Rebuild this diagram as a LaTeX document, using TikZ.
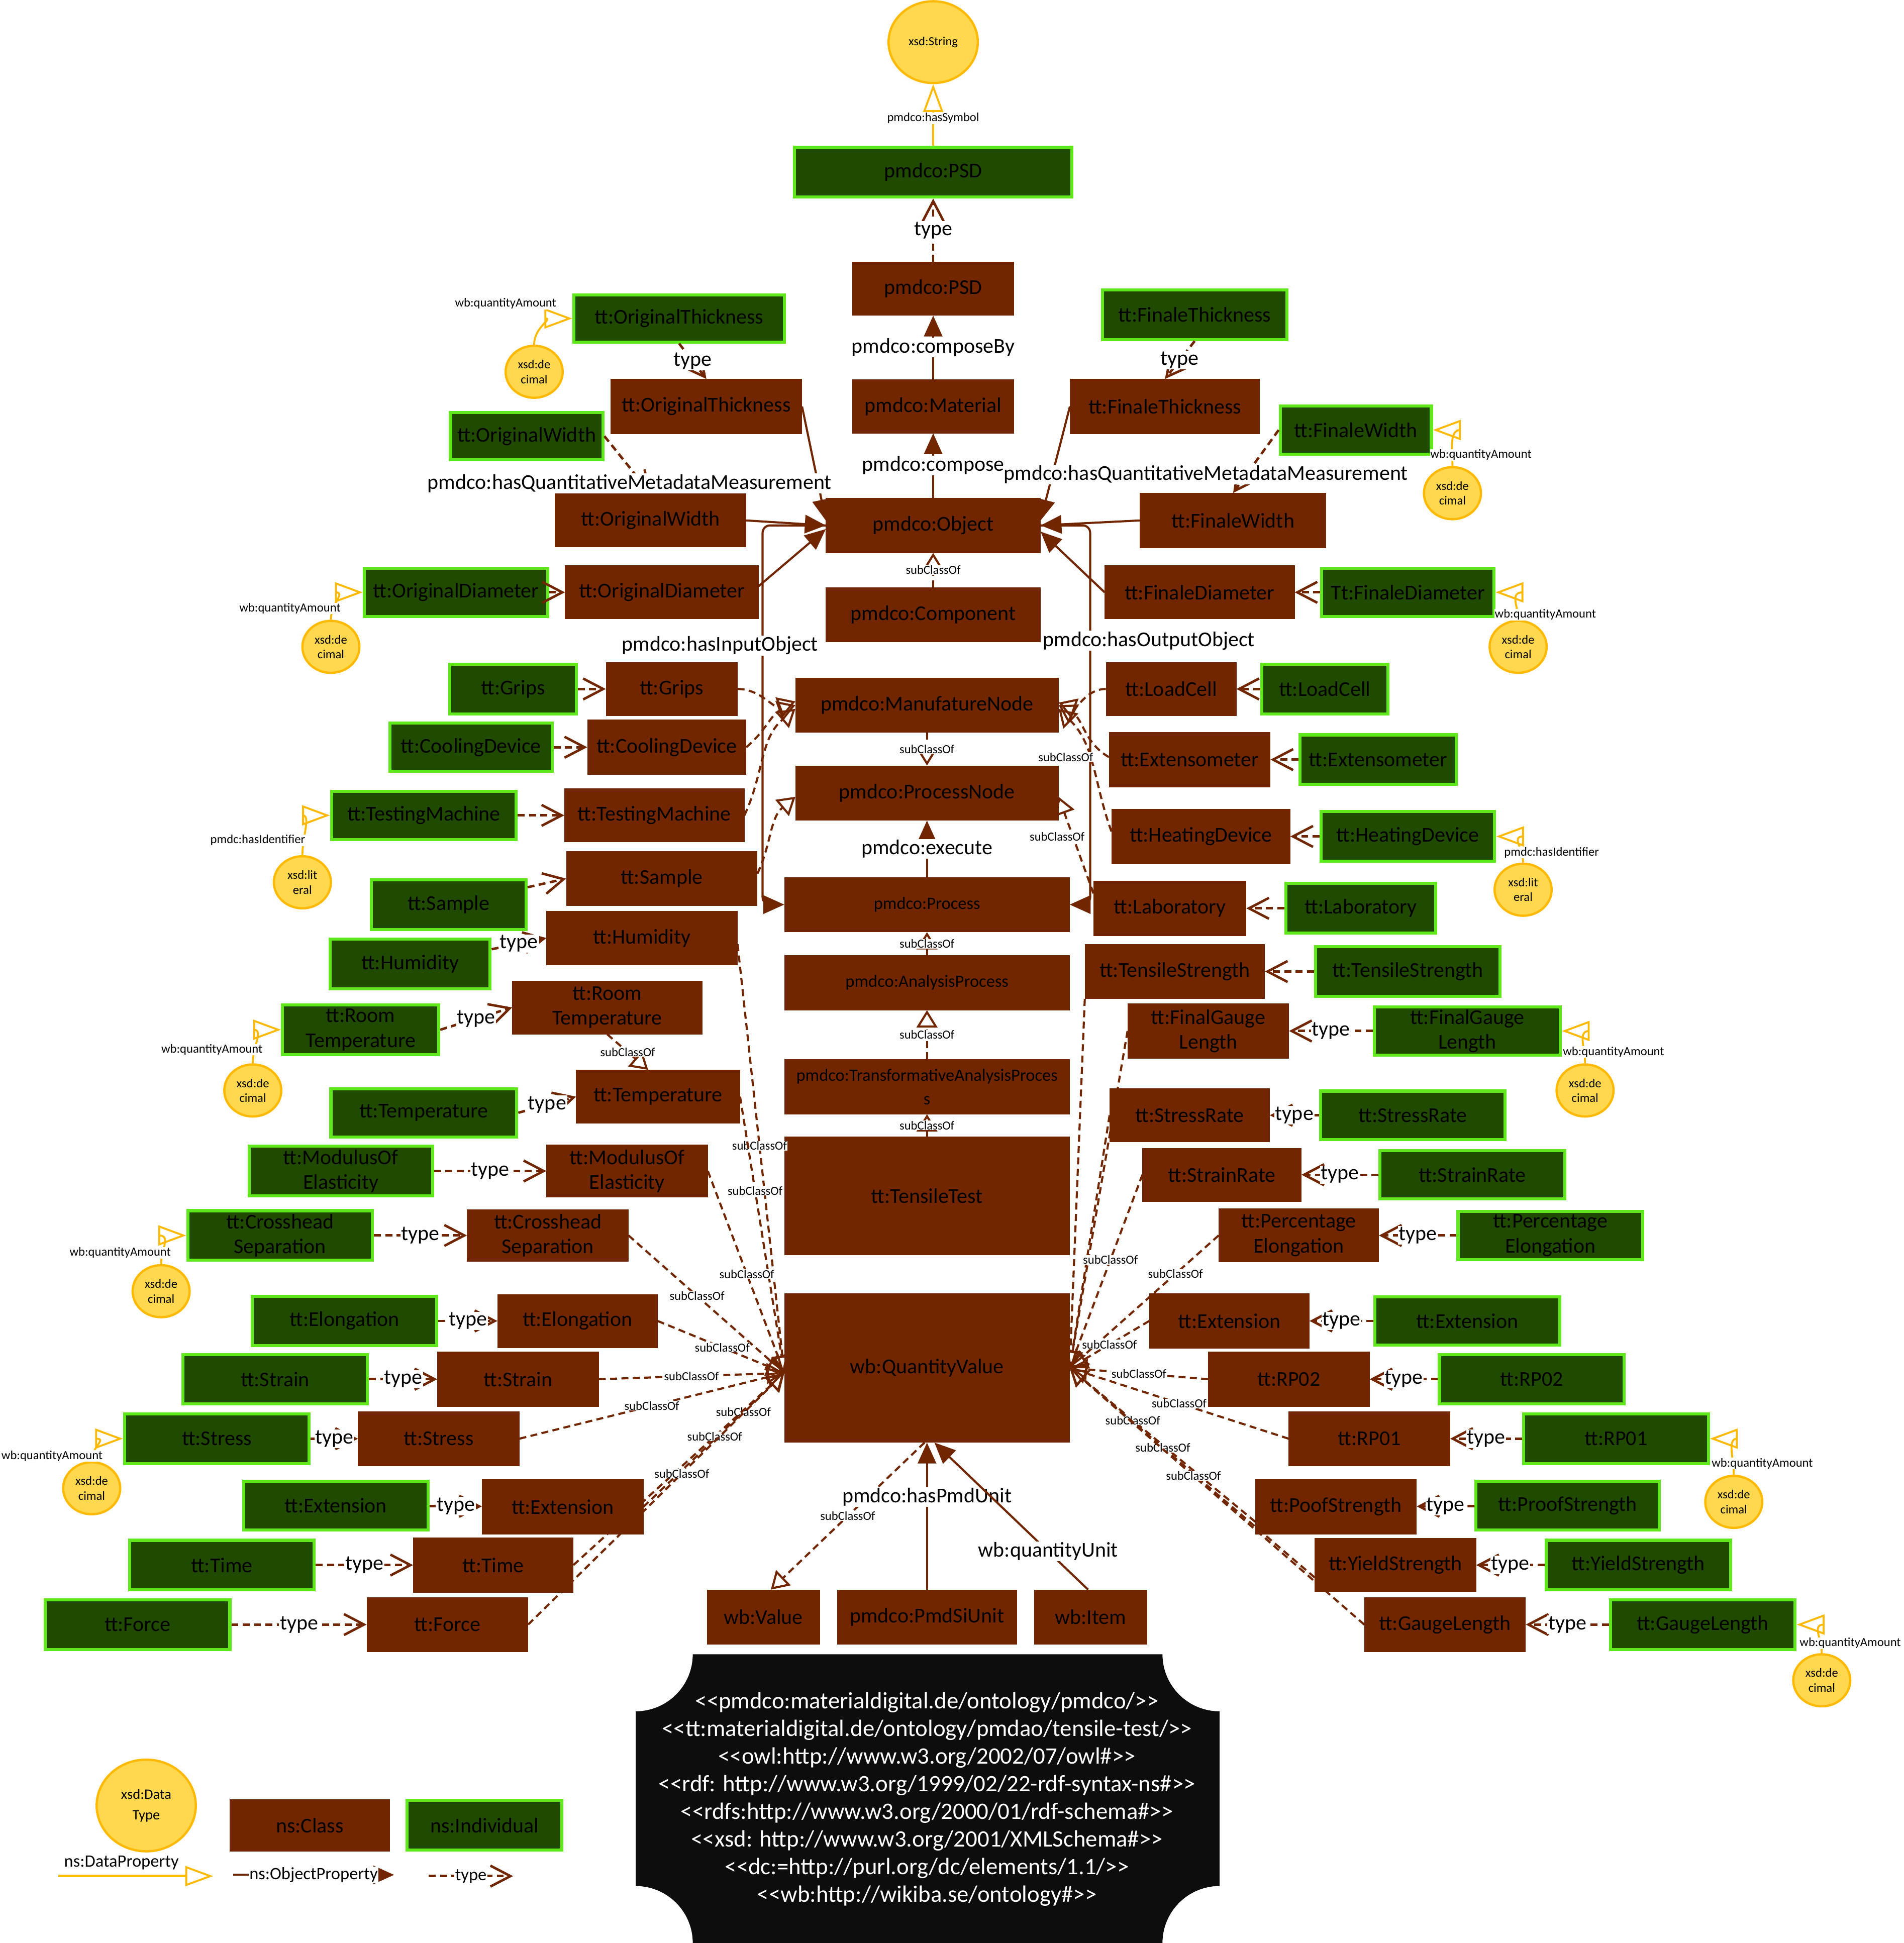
\documentclass[tikz,border=0pt]{standalone}
\usepackage{fontspec}
\setmainfont{Carlito}
\usetikzlibrary{arrows.meta,shapes.geometric}

\definecolor{clsbrown}{RGB}{114,38,0}
\definecolor{indgreen}{RGB}{31,74,0}
\definecolor{indline}{RGB}{96,232,28}
\definecolor{dtyellow}{RGB}{255,216,80}
\definecolor{dtorange}{RGB}{255,185,0}

\newcommand{\fbig}{\fontsize{24.2pt}{28.5pt}\selectfont}
\newcommand{\fmid}{\fontsize{19.9pt}{27pt}\selectfont}
\newcommand{\fsmall}{\fontsize{14.2pt}{17pt}\selectfont}
\newcommand{\flegdt}{\fontsize{16.5pt}{24pt}\selectfont}
\newcommand{\fpref}{\fontsize{27pt}{31.7pt}\selectfont}
\newcommand{\openpre}{<\kern0pt<}
\newcommand{\closepre}{>\kern0pt>}

\tikzset{
  sz/.style 2 args={minimum width=#1*0.5mm, minimum height=#2*0.5mm},
  clsbox/.style={rectangle, fill=clsbrown, draw=clsbrown, line width=0.5pt, inner sep=0pt, align=center, font=\fbig, sz={130}{44}},
  indbox/.style={rectangle, fill=indgreen, draw=indline, line width=3.5pt, inner sep=0pt, align=center, font=\fbig, sz={149}{40}},
  dtype/.style={ellipse, fill=dtyellow, draw=dtorange, line width=2.6pt, inner sep=0pt, align=center, font=\fsmall, sz={46}{42}},
  objprop/.style={draw=clsbrown, line width=2.4pt, -{Triangle[length=24pt,width=21pt]}},
  subcls/.style={draw=clsbrown, line width=2.4pt, dash pattern=on 8pt off 5pt, -{Triangle[open,length=20pt,width=24pt,line width=2.4pt]}},
  typeedge/.style={draw=clsbrown, line width=2.8pt, dash pattern=on 8pt off 5pt, -{Straight Barb[length=23pt,width=24pt]}},
  dataprop/.style={draw=dtorange, line width=2.2pt, -{Triangle[open,length=32pt,width=23pt,line width=2.2pt]}},
  lbl/.style={font=\fbig, fill=white, inner sep=1pt},
  slbl/.style={font=\fsmall, fill=white, inner sep=0.5pt},
}

\begin{document}
\begin{tikzpicture}[x=0.5mm,y=-0.5mm]

\useasboundingbox (0,0) rectangle (1536,1568);

% namespace box
\fill[black!95] (559,1335) -- (938,1335) .. controls (938,1360.4) and (958.6,1381) .. (984,1381)
  -- (984,1522) .. controls (958.6,1522) and (938,1542.6) .. (938,1568)
  -- (559,1568) .. controls (559,1542.6) and (538.4,1522) .. (513,1522)
  -- (513,1381) .. controls (538.4,1381) and (559,1360.4) .. (559,1335) -- cycle;
\node[font=\fpref, text=white, align=center, inner sep=0pt] (prefixes) at (748,1452) {%
\openpre pmdco:materialdigital.de/ontology/pmdco/\closepre\\
\openpre tt:materialdigital.de/ontology/pmdao/tensile-test/\closepre\\
\openpre owl:http://www.w3.org/2002/07/owl\#\closepre\\
\openpre rdf: http://www.w3.org/1999/02/22-rdf-syntax-ns\#\closepre\\
\openpre rdfs:http://www.w3.org/2000/01/rdf-schema\#\closepre\\
\openpre xsd: http://www.w3.org/2001/XMLSchema\#\closepre\\
\openpre dc:=http://purl.org/dc/elements/1.1/\closepre\\
\openpre wb:http://wikiba.se/ontology\#\closepre};

% centre column
\node[dtype, sz={72}{66}] (str) at (753,34) {xsd:String};
\node[indbox, sz={224}{40}] (psdI) at (753,139) {pmdco:PSD};
\node[clsbox, sz={130}{43}] (psd) at (753,233) {pmdco:PSD};
\node[clsbox, sz={130}{43}] (material) at (753,328) {pmdco:Material};
\node[clsbox, sz={173}{44}] (object) at (753,424) {pmdco:Object};
\node[clsbox, sz={173}{44}] (component) at (753,496) {pmdco:Component};
\node[clsbox, sz={212}{44}] (manuf) at (748,569) {pmdco:ManufatureNode};
\node[clsbox, sz={212}{44}] (pnode) at (748,640) {pmdco:ProcessNode};
\node[clsbox, sz={230}{44}, font=\fmid] (process) at (748,730) {pmdco:Process};
\node[clsbox, sz={230}{44}, font=\fmid] (analysis) at (748,793) {pmdco:AnalysisProcess};
\node[clsbox, sz={230}{44}, font=\fmid] (transf) at (748,877) {pmdco:TransformativeAnalysisProces\\s};
\node[clsbox, sz={230}{95}] (tensile) at (748,965) {tt:TensileTest};
\node[clsbox, sz={230}{120}] (qv) at (748,1104) {wb:QuantityValue};
\node[clsbox, sz={91}{44}] (value) at (616,1305) {wb:Value};
\node[clsbox, sz={145}{44}] (siunit) at (748,1305) {pmdco:PmdSiUnit};
\node[clsbox, sz={91}{44}] (item) at (880,1305) {wb:Item};

% upper left
\node[indbox, sz={170}{38}] (othickI) at (548,257) {tt:OriginalThickness};
\node[dtype] (othickD) at (431,300) {xsd:de\\cimal};
\node[clsbox, sz={154}{44}] (othick) at (570,328) {tt:OriginalThickness};
\node[indbox, sz={123}{38}] (owidthI) at (425,352) {tt:OriginalWidth};
\node[clsbox, sz={154}{43}] (owidth) at (525,420) {tt:OriginalWidth};
\node[indbox, sz={148}{39}] (odiamI) at (368,478) {tt:OriginalDiameter};
\node[clsbox, sz={156}{43}] (odiam) at (534,478) {tt:OriginalDiameter};
\node[dtype] (odiamD) at (267,522) {xsd:de\\cimal};

% upper right
\node[indbox, sz={149}{40}] (fthickI) at (964,254) {tt:FinaleThickness};
\node[clsbox, sz={153}{44}] (fthick) at (940,328) {tt:FinaleThickness};
\node[indbox, sz={122}{39}] (fwidthI) at (1094,347) {tt:FinaleWidth};
\node[dtype] (fwidthD) at (1172,398) {xsd:de\\cimal};
\node[clsbox, sz={150}{44}] (fwidth) at (995,420) {tt:FinaleWidth};
\node[clsbox, sz={153}{43}] (fdiam) at (968,478) {tt:FinaleDiameter};
\node[indbox, sz={139}{39}] (fdiamI) at (1136,478) {Tt:FinaleDiameter};
\node[dtype] (fdiamD) at (1225,522) {xsd:de\\cimal};

% left column
\node[indbox, sz={102}{40}] (gripsI) at (414,556) {tt:Grips};
\node[clsbox, sz={106}{43}] (grips) at (542,556) {tt:Grips};
\node[indbox, sz={131}{39}] (coolingI) at (380,603) {tt:CoolingDevice};
\node[clsbox, sz={128}{44}] (cooling) at (538,603) {tt:CoolingDevice};
\node[indbox, sz={149}{39}] (testingI) at (342,658) {tt:TestingMachine};
\node[clsbox, sz={145}{43}] (testing) at (528,658) {tt:TestingMachine};
\node[dtype] (testingD) at (244,712) {xsd:lit\\eral};
\node[clsbox, sz={154}{44}] (sample) at (534,709) {tt:Sample};
\node[indbox, sz={125}{40}] (sampleI) at (362,730) {tt:Sample};
\node[clsbox, sz={154}{43}] (humidity) at (518,757) {tt:Humidity};
\node[indbox, sz={129}{40}] (humidityI) at (331,778) {tt:Humidity};
\node[clsbox, sz={153}{43}] (room) at (490,813) {tt:Room\\Temperature};
\node[indbox, sz={126}{40}] (roomI) at (291,831) {tt:Room\\Temperature};
\node[dtype] (roomD) at (204,880) {xsd:de\\cimal};
\node[clsbox, sz={132}{43}] (temp) at (531,885) {tt:Temperature};
\node[indbox, sz={150}{39}] (tempI) at (342,898) {tt:Temperature};
\node[indbox, sz={148}{40}] (modulusI) at (275,945) {tt:ModulusOf\\Elasticity};
\node[clsbox, sz={130}{42}] (modulus) at (506,945) {tt:ModulusOf\\Elasticity};
\node[indbox] (crossI) at (226,997) {tt:Crosshead\\Separation};
\node[clsbox, sz={130}{42}] (cross) at (442,997) {tt:Crosshead\\Separation};
\node[dtype] (crossD) at (130,1042) {xsd:de\\cimal};
\node[indbox] (elongI) at (278,1066) {tt:Elongation};
\node[clsbox, sz={129}{43}] (elong) at (466,1066) {tt:Elongation};
\node[indbox] (strainI) at (222,1113) {tt:Strain};
\node[clsbox] (strain) at (418,1113) {tt:Strain};
\node[indbox] (stressI) at (175,1161) {tt:Stress};
\node[clsbox] (stress) at (354,1161) {tt:Stress};
\node[dtype] (stressD) at (74,1201) {xsd:de\\cimal};
\node[indbox, sz={149}{39}] (extLI) at (271,1215) {tt:Extension};
\node[clsbox] (extL) at (454,1216) {tt:Extension};
\node[indbox] (timeI) at (179,1263) {tt:Time};
\node[clsbox, sz={129}{44}] (time) at (398,1263) {tt:Time};
\node[indbox] (forceI) at (111,1311) {tt:Force};
\node[clsbox] (force) at (361,1311) {tt:Force};

% right column
\node[clsbox, sz={105}{43}] (loadcell) at (945,556) {tt:LoadCell};
\node[indbox, sz={102}{40}] (loadcellI) at (1069,556) {tt:LoadCell};
\node[clsbox] (extens) at (960,613) {tt:Extensometer};
\node[indbox, sz={126}{40}] (extensI) at (1112,613) {tt:Extensometer};
\node[clsbox, sz={144}{44}] (heating) at (969,675) {tt:HeatingDevice};
\node[indbox, sz={140}{40}] (heatingI) at (1136,675) {tt:HeatingDevice};
\node[dtype] (heatingD) at (1229,718) {xsd:lit\\eral};
\node[clsbox, sz={123}{44}] (lab) at (944,733) {tt:Laboratory};
\node[indbox, sz={121}{40}] (labI) at (1098,733) {tt:Laboratory};
\node[clsbox, sz={145}{44}] (tstrength) at (948,784) {tt:TensileStrength};
\node[indbox] (tstrengthI) at (1136,784) {tt:TensileStrength};
\node[clsbox] (fgauge) at (975,832) {tt:FinalGauge\\Length};
\node[indbox, sz={150}{39}] (fgaugeI) at (1184,832) {tt:FinalGauge\\Length};
\node[dtype] (fgaugeD) at (1279,880) {xsd:de\\cimal};
\node[clsbox, sz={129}{43}] (stressrate) at (960,900) {tt:StressRate};
\node[indbox, sz={149}{39}] (stressrateI) at (1140,900) {tt:StressRate};
\node[clsbox, sz={128}{43}] (strainrate) at (986,948) {tt:StrainRate};
\node[indbox, sz={149}{39}] (strainrateI) at (1188,948) {tt:StrainRate};
\node[clsbox, sz={129}{43}] (perc) at (1048,997) {tt:Percentage\\Elongation};
\node[indbox, sz={149}{39}] (percI) at (1251,997) {tt:Percentage\\Elongation};
\node[clsbox, sz={129}{44}] (extR) at (992,1066) {tt:Extension};
\node[indbox, sz={149}{39}] (extRI) at (1184,1066) {tt:Extension};
\node[clsbox] (rp02) at (1040,1113) {tt:RP02};
\node[indbox] (rp02I) at (1236,1113) {tt:RP02};
\node[clsbox] (rp01) at (1105,1161) {tt:RP01};
\node[indbox] (rp01I) at (1304,1161) {tt:RP01};
\node[dtype] (rp01D) at (1399,1212) {xsd:de\\cimal};
\node[clsbox] (poof) at (1078,1216) {tt:PoofStrength};
\node[indbox, sz={148}{39}] (proofI) at (1265,1215) {tt:ProofStrength};
\node[clsbox, sz={130}{43}] (yield) at (1126,1263) {tt:YieldStrength};
\node[indbox] (yieldI) at (1322,1263) {tt:YieldStrength};
\node[clsbox] (gauge) at (1166,1311) {tt:GaugeLength};
\node[indbox] (gaugeI) at (1374,1311) {tt:GaugeLength};
\node[dtype] (gaugeD) at (1470,1356) {xsd:de\\cimal};

% legend
\node[dtype, sz={80}{74}, font=\flegdt] (legdt) at (118,1457) {xsd:Data\\Type};
\node[clsbox, sz={129}{42}] (legcls) at (250,1473) {ns:Class};
\node[indbox, sz={125}{40}] (legind) at (391,1473) {ns:Individual};
\coordinate (dpS) at (47,1514);
\coordinate (dpE) at (172,1514);
\coordinate (opS) at (188,1513);
\coordinate (opE) at (318,1513);
\coordinate (tyS) at (346,1514);
\coordinate (tyE) at (414,1514);

% centre edges
\draw[dataprop] (psdI) -- node[slbl, pos=0.45]{pmdco:hasSymbol} (str);
\draw[typeedge] (psd) -- node[lbl]{type} (psdI);
\draw[objprop] (material) -- node[lbl]{pmdco:composeBy} (psd);
\draw[objprop] (object) -- node[lbl]{pmdco:compose} (material);
\draw[subcls] (component) -- node[slbl]{subClassOf} (object);
\draw[subcls] (manuf) -- node[slbl]{subClassOf} (pnode);
\draw[objprop] (process) -- node[lbl]{pmdco:execute} (pnode);
\draw[subcls] (analysis) -- node[slbl]{subClassOf} (process);
\draw[subcls] (transf) -- node[slbl]{subClassOf} (analysis);
\draw[subcls] (tensile) -- node[slbl]{subClassOf} (transf);
\draw[subcls] ([xshift=-1mm]qv.south) -- node[slbl]{subClassOf} ([xshift=3mm]value.north);
\draw[objprop] (siunit) -- node[lbl, pos=0.63]{pmdco:hasPmdUnit} (qv);
\draw[objprop] ([xshift=-1mm]item.north) -- node[lbl, pos=0.26]{wb:quantityUnit} ([xshift=3mm]qv.south);
\draw[objprop, rounded corners=3mm] (object.west) -- ++(-51,0) |- (process.west);
\draw[objprop, rounded corners=3mm] (object.east) -- ++(40,0) |- (process.east);

% upper edges
\draw[typeedge] (othickI.south) -- node[lbl]{type} (othick.north);
\draw[objprop] (othick.east) -- ([yshift=2mm]object.west);
\draw[typeedge] (owidthI.east) -- (owidth.north);
\draw[objprop] (owidth.east) -- (object.west);
\draw[typeedge] (odiamI) -- (odiam);
\draw[objprop] ([yshift=2.5mm]odiam.east) -- ([yshift=-1.5mm]object.west);
\draw[dataprop] (othickD.north) to[out=90,in=180] (othickI.west) node[slbl] (qa1) at (408,245) {wb:quantityAmount};
\draw[dataprop] (odiamD.north) to[out=90,in=180] (odiamI.west) node[slbl] (qa2) at (234,491) {wb:quantityAmount};
\draw[typeedge] (fthickI.south) -- node[lbl]{type} (fthick.north);
\draw[objprop] (fthick.west) -- ([yshift=2mm]object.east);
\draw[typeedge] (fwidthI.west) -- (fwidth.north);
\draw[objprop] (fwidth.west) -- (object.east);
\draw[objprop] (fdiam.west) -- ([yshift=-2.5mm]object.east);
\draw[typeedge] (fdiamI) -- (fdiam);
\draw[dataprop] (fwidthD.north) to[out=90,in=0] (fwidthI.east) node[slbl] (qa3) at (1195,367) {wb:quantityAmount};
\draw[dataprop] (fdiamD.north) to[out=90,in=0] (fdiamI.east) node[slbl] (qa4) at (1247,496) {wb:quantityAmount};

% left edges
\draw[typeedge] (gripsI) -- (grips);
\draw[typeedge] (coolingI) -- (cooling);
\draw[typeedge] (testingI) -- (testing);
\draw[typeedge] ([yshift=7mm]sampleI.east) -- (sample.west);
\draw[typeedge] ([yshift=6mm]humidityI.east) -- node[lbl]{type} (humidity.west);
\draw[typeedge] (roomI.east) -- node[lbl]{type} (room.west);
\draw[typeedge] (tempI.east) -- node[lbl]{type} (temp.west);
\draw[typeedge] (modulusI) -- node[lbl]{type} (modulus);
\draw[typeedge] (crossI) -- node[lbl]{type} (cross);
\draw[typeedge] (elongI) -- node[lbl]{type} (elong);
\draw[typeedge] (strainI) -- node[lbl]{type} (strain);
\draw[typeedge] (stressI) -- node[lbl]{type} (stress);
\draw[typeedge] (extLI) -- node[lbl]{type} (extL);
\draw[typeedge] (timeI) -- node[lbl]{type} (time);
\draw[typeedge] (forceI) -- node[lbl]{type} (force);
\draw[subcls] (room.south) -- node[slbl]{subClassOf} ([xshift=-4mm]temp.north);
\draw[dataprop] (testingD.north) to[out=90,in=180] (testingI.west) node[slbl] (hid1) at (208,678) {pmdc:hasIdentifier};
\draw[dataprop] (roomD.north) to[out=90,in=180] (roomI.west) node[slbl] (qa5) at (171,847) {wb:quantityAmount};
\draw[dataprop] (crossD.north) to[out=90,in=180] (crossI.west) node[slbl] (qa6) at (97,1011) {wb:quantityAmount};
\draw[dataprop] (stressD.north) to[out=90,in=180] (stressI.west) node[slbl] (qa7) at (42,1175) {wb:quantityAmount};
\draw[subcls] (grips.east) to[out=0,in=200] ([yshift=1.5mm]manuf.west);
\draw[subcls] (cooling.east) to[out=40,in=200] (manuf.west);
\draw[subcls] (testing.east) to[out=65,in=220] ([yshift=-1.5mm]manuf.west);
\draw[subcls] ([yshift=2mm]sample.east) to[out=65,in=220] ([yshift=-1.5mm]pnode.west);

\coordinate (qvL) at ([yshift=-2mm]qv.west);
\draw[subcls] ([yshift=-2.5mm]humidity.east) -- node[slbl, pos=0.47]{subClassOf} (qvL);
\draw[subcls] (temp.east) -- node[slbl, pos=0.34]{subClassOf} (qvL);
\draw[subcls] (modulus.east) -- node[slbl, pos=0.51]{subClassOf} (qvL);
\draw[subcls] (cross.east) -- node[slbl, pos=0.44]{subClassOf} (qvL);
\draw[subcls] (elong.east) -- node[slbl, pos=0.51]{subClassOf} (qvL);
\draw[subcls] (strain.east) -- node[slbl, pos=0.5]{subClassOf} (qvL);
\draw[subcls] (stress.east) -- node[slbl, pos=0.5]{subClassOf} (qvL);
\draw[subcls] (extL.east) -- node[slbl, pos=0.71]{subClassOf} (qvL);
\draw[subcls] (time.east) -- node[slbl, pos=0.67]{subClassOf} (qvL);
\draw[subcls] (force.east) -- node[slbl, pos=0.6]{subClassOf} (qvL);

% right edges
\draw[typeedge] (loadcellI) -- (loadcell);
\draw[typeedge] (extensI) -- (extens);
\draw[typeedge] (heatingI) -- (heating);
\draw[typeedge] (labI) -- (lab);
\draw[typeedge] (tstrengthI) -- (tstrength);
\draw[typeedge] (fgaugeI) -- node[lbl]{type} (fgauge);
\draw[typeedge] (stressrateI) -- node[lbl]{type} (stressrate);
\draw[typeedge] (strainrateI) -- node[lbl]{type} (strainrate);
\draw[typeedge] (percI) -- node[lbl]{type} (perc);
\draw[typeedge] (extRI) -- node[lbl]{type} (extR);
\draw[typeedge] (rp02I) -- node[lbl]{type} (rp02);
\draw[typeedge] (rp01I) -- node[lbl]{type} (rp01);
\draw[typeedge] (proofI) -- node[lbl]{type} (poof);
\draw[typeedge] (yieldI) -- node[lbl]{type} (yield);
\draw[typeedge] (gaugeI) -- node[lbl]{type} (gauge);
\draw[dataprop] (heatingD.north) to[out=90,in=0] (heatingI.east) node[slbl] (hid2) at (1252,688) {pmdc:hasIdentifier};
\draw[dataprop] (fgaugeD.north) to[out=90,in=0] (fgaugeI.east) node[slbl] (qa8) at (1302,849) {wb:quantityAmount};
\draw[dataprop] (rp01D.north) to[out=90,in=0] (rp01I.east) node[slbl] (qa9) at (1422,1181) {wb:quantityAmount};
\draw[dataprop] (gaugeD.north) to[out=90,in=0] (gaugeI.east) node[slbl] (qa10) at (1493,1326) {wb:quantityAmount};
\draw[subcls] (loadcell.west) to[out=180,in=-20] ([yshift=1mm]manuf.east);
\draw[subcls] ([yshift=1mm]extens.west) to[out=150,in=-30] (manuf.east);
\draw[subcls] ([yshift=2mm]heating.west) to[out=110,in=-45] ([yshift=-1.5mm]manuf.east) node[slbl] (sc1) at (860,611) {subClassOf};
\draw[subcls] ([yshift=6mm]lab.west) -- ([yshift=-1.5mm]pnode.east) node[slbl] (sc2) at (853,675) {subClassOf};

\draw[subcls] (tstrength.south west) -- (qv.east);
\draw[subcls] (fgauge.west) -- (qv.east);
\draw[subcls] (stressrate.west) -- (qv.east);
\draw[subcls] (strainrate.west) -- node[slbl, pos=0.44]{subClassOf} (qv.east);
\draw[subcls] (perc.west) -- node[slbl, pos=0.29]{subClassOf} (qv.east);
\draw[subcls] (extR.west) -- node[slbl, pos=0.5]{subClassOf} (qv.east);
\draw[subcls] (rp02.west) -- node[slbl, pos=0.5]{subClassOf} (qv.east);
\draw[subcls] (rp01.west) -- node[slbl, pos=0.5]{subClassOf} (qv.east);
\draw[subcls] ([yshift=-6mm]poof.west) -- node[slbl, pos=0.66]{subClassOf} (qv.east);
\draw[subcls] ([yshift=-5mm]yield.west) -- node[slbl, pos=0.62]{subClassOf} (qv.east);
\draw[subcls] (gauge.west) -- node[slbl, pos=0.58]{subClassOf} (qv.east);

% property labels over the edges
\node[lbl] (qmmL) at (508,390) {pmdco:hasQuantitativeMetadataMeasurement};
\node[lbl] (qmmR) at (973,383) {pmdco:hasQuantitativeMetadataMeasurement};
\node[lbl] (hasin) at (581,521) {pmdco:hasInputObject};
\node[lbl] (hasout) at (927,517) {pmdco:hasOutputObject};

% legend edges
\draw[dataprop, line width=3pt] (dpS) -- (dpE) node[font=\fmid, inner sep=1pt] (legdp) at (98,1503) {ns:DataProperty};
\draw[objprop] (opS) -- node[font=\fmid, fill=white, inner sep=1pt]{ns:ObjectProperty} (opE);
\draw[typeedge] (tyS) -- node[font=\fmid, fill=white, inner sep=1pt]{type} (tyE);

\end{tikzpicture}
\end{document}
